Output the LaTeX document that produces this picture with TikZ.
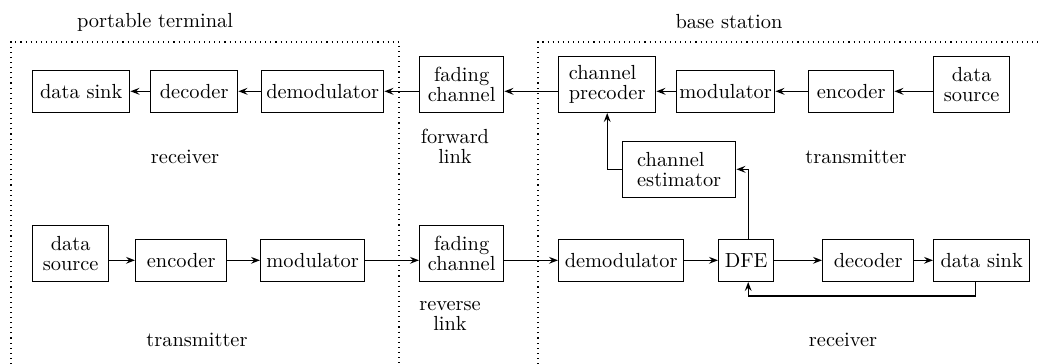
\documentclass[tikz,border=0pt]{standalone}
\usepackage{tikz}
\usetikzlibrary{arrows.meta, calc}

\begin{document}
\begin{tikzpicture}[x=0.5pt, y=-0.5pt, >={Stealth[length=4.5pt, width=3.4pt, inset=1.6pt]},
    font=\fontsize{10.2}{10}\selectfont,
    blk/.style={draw, line width=0.7pt, anchor=south west, inner xsep=1pt, inner ysep=2pt, minimum height=21pt},
    tall/.style={blk, minimum height=28pt, align=center},
    link/.style={->, line width=0.7pt},
    zone/.style={line width=0.55pt, dash pattern=on 0.55pt off 2pt}] % 1px = 0.5pt

    \useasboundingbox (0,0) rectangle (1046,364);

    % 1. dotted zones
    \draw[zone] (11,364) -- (11,42) -- (399,42) -- (399,364);
    \draw[zone] (538,364) -- (538,42) -- (1042,42);
    \node (ptlabel) at (155,22) {portable terminal};
    \node (bslabel) at (729,22) {base station};

    % 2. forward link (top row)
    \node[blk, minimum width=48.5pt] (tsink)  at (32,113)  {data sink};
    \node[blk, minimum width=43.5pt] (tdec)   at (150,113) {decoder};
    \node[blk, minimum width=61pt]   (tdemod) at (261,113) {demodulator};
    \node[tall, minimum width=42pt]  (fwdch)  at (419,113) {fading\\channel};
    \node[tall, minimum width=48.5pt, align=left] (prec) at (558,113) {channel\\precoder};
    \node[blk, minimum width=49pt]   (bmod)   at (676,113) {modulator};
    \node[blk, minimum width=42.5pt] (benc)   at (808,113) {encoder};
    \node[tall, minimum width=38pt]  (bsrc)   at (933,113) {data\\source};
    \node[tall, minimum width=56.5pt, align=left] (est) at (622,198) {channel\\estimator};

    % 3. reverse link (bottom row)
    \node[tall, minimum width=38pt]  (psrc)   at (32,282)  {data\\source};
    \node[blk, minimum width=45.5pt] (penc)   at (135,282) {encoder};
    \node[blk, minimum width=52pt]   (pmod)   at (260,282) {modulator};
    \node[tall, minimum width=42pt]  (revch)  at (419,282) {fading\\channel};
    \node[blk, minimum width=62.5pt] (bdemod) at (558,282) {demodulator};
    \node[blk, minimum width=27.5pt] (dfe)    at (718,282) {DFE};
    \node[blk, minimum width=45.5pt] (bdec)   at (822,282) {decoder};
    \node[blk, minimum width=48pt]   (bsink)  at (933,282) {data sink};

    % 4. labels
    \node[align=center] (fwdlbl) at (455,146) {forward\\link};
    \node[align=center] (revlbl) at (450,316) {reverse\\link};
    \node (ptrx) at (185,157) {receiver};
    \node (pttx) at (197,340) {transmitter};
    \node (bstx) at (856,157) {transmitter};
    \node (bsrx) at (843,340) {receiver};

    % 5. connectors, top row
    \draw[link] (bsrc.west |- benc.east) -- (benc.east);
    \draw[link] (benc.west) -- (bmod.east);
    \draw[link] (bmod.west) -- (prec.east |- bmod.west);
    \draw[link] (prec.west |- bmod.west) -- (fwdch.east |- bmod.west);
    \draw[link] (fwdch.west |- tdemod.east) -- (tdemod.east);
    \draw[link] (tdemod.west) -- (tdec.east);
    \draw[link] (tdec.west) -- (tsink.east);

    % 6. connectors, bottom row
    \draw[link] (psrc.east |- penc.west) -- (penc.west);
    \draw[link] (penc.east) -- (pmod.west);
    \draw[link] (pmod.east) -- (revch.west |- pmod.east);
    \draw[link] (revch.east |- bdemod.west) -- (bdemod.west);
    \draw[link] (bdemod.east) -- (dfe.west);
    \draw[link] (dfe.east) -- (bdec.west);
    \draw[link] (bdec.east) -- (bsink.west);

    % 7. feedback and channel estimation
    \draw[link] ([xshift=-3pt]bsink.south) -- ++(0,14) -| ([xshift=1pt]dfe.south);
    \draw[link] ([xshift=1pt]dfe.north) |- (est.east);
    \draw[link] (est.west) -| (prec.south);

\end{tikzpicture}
\end{document}
